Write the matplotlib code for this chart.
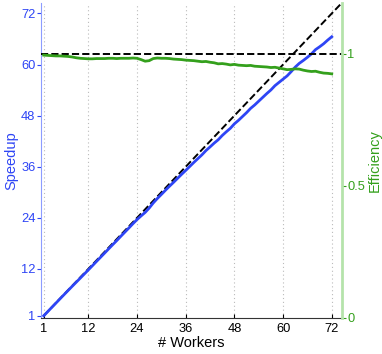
import numpy as np
import matplotlib
matplotlib.use("Agg")
import matplotlib.pyplot as plt

plt.rcParams['font.family'] = ['Liberation Sans', 'DejaVu Sans']

workers = list(range(1, 73))
efficiency = [
    0.995, 0.994, 0.993, 0.992, 0.992, 0.991, 0.990, 0.988, 0.985, 0.983,
    0.982, 0.981, 0.981, 0.982, 0.982, 0.982, 0.983, 0.983, 0.982, 0.983,
    0.983, 0.983, 0.984, 0.983, 0.978, 0.972, 0.974, 0.982, 0.984, 0.983,
    0.983, 0.982, 0.980, 0.979, 0.978, 0.976, 0.975, 0.974, 0.972, 0.970,
    0.971, 0.968, 0.966, 0.962, 0.963, 0.961, 0.958, 0.960, 0.957, 0.956,
    0.955, 0.956, 0.953, 0.952, 0.951, 0.950, 0.948, 0.949, 0.946, 0.943,
    0.940, 0.941, 0.943, 0.942, 0.938, 0.935, 0.933, 0.934, 0.930, 0.927,
    0.926, 0.924,
]
# speedup = workers * efficiency
speedup = [n * e for n, e in zip(workers, efficiency)]
ideal = [1, 80]
xticks = [1, 12, 24, 36, 48, 60, 72]
eff_ticks = [0, 0.5, 1]

blue = '#2e45f5'
green = '#34a01c'

fig = plt.figure(figsize=(3.82, 3.54), dpi=100)
ax = fig.add_axes([0.107, 0.102, 0.788, 0.89])
ax2 = ax.twinx()

for x in xticks:
    ax.axvline(x, color='#bbbbbb', linestyle=(0, (1, 2.5)), linewidth=0.8, zorder=0)

ax.plot(ideal, ideal, color='black', linestyle='--', linewidth=1.4, zorder=3)
ax.plot(workers, speedup, color=blue, linewidth=2.0, zorder=4)

ax2.axhline(1, color='black', linestyle='--', linewidth=1.4)
ax2.plot(workers, efficiency, color=green, linewidth=2.0)

ax.set_xlim(0.3, 74.5)
ax.set_ylim(0.5, 74.5)
ax2.set_ylim(0, 1.193)

ax.set_xticks(xticks)
ax.set_yticks(xticks)
ax2.set_yticks(eff_ticks)
ax2.set_yticklabels(['0', '0.5', '1'])

ax.tick_params(axis='x', labelsize=9.3, colors='black', length=3, direction='in')
ax.tick_params(axis='y', labelsize=9.3, colors=blue, length=3, pad=1)
ax2.tick_params(axis='y', labelsize=9.3, colors=green, length=3, pad=1)

for a in (ax, ax2):
    a.spines['top'].set_visible(False)
ax.spines['right'].set_visible(False)
ax2.spines['left'].set_visible(False)
ax2.spines['bottom'].set_visible(False)
ax.spines['left'].set_color('#8c9cff')
ax.spines['bottom'].set_color('#333333')
ax2.spines['right'].set_color('#b5e3ab')
ax2.spines['right'].set_linewidth(2.0)

ax.set_xlabel('# Workers', fontsize=10.5, labelpad=1)
ax.set_ylabel('Speedup', fontsize=10.5, color=blue, labelpad=2)
ax2.set_ylabel('Efficiency', fontsize=10.5, color=green, labelpad=2)

fig.savefig('out.png', dpi=100)
